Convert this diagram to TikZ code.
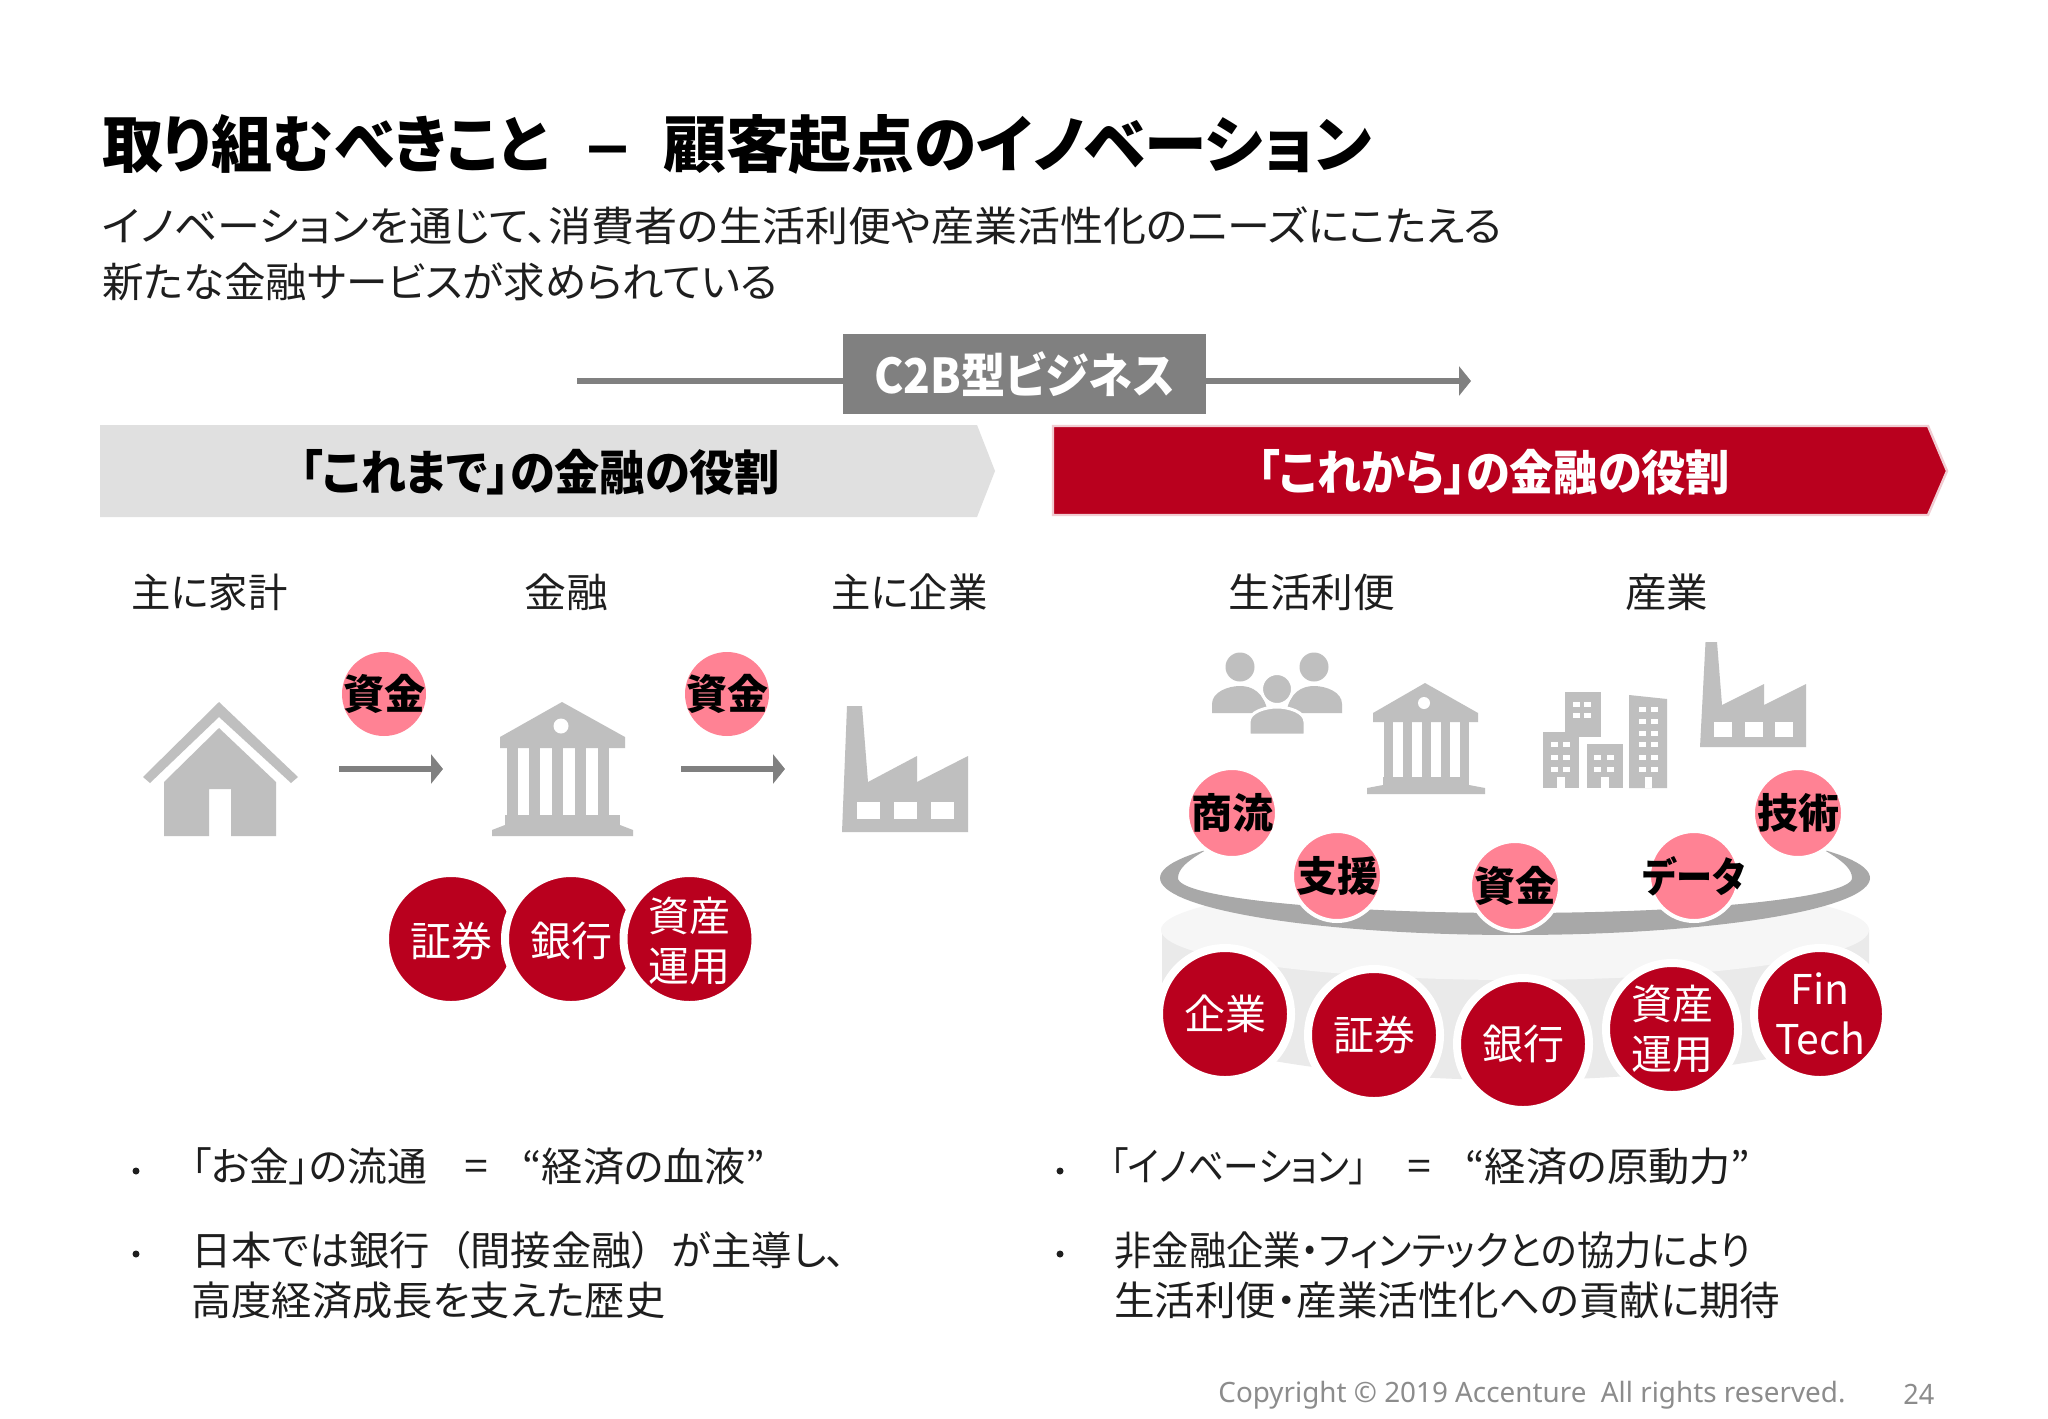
\documentclass[tikz,border=0pt]{standalone}
\usepackage{fontspec}
\usepackage{graphicx}
\setmainfont[RawFeature=+palt]{Noto Sans CJK JP}
\newfontfamily\latinf{Noto Sans}
\usetikzlibrary{arrows.meta}
\definecolor{cred}{HTML}{B9001E}
\definecolor{cpink}{HTML}{FF8294}
\definecolor{cicon}{HTML}{BFBFBF}
\definecolor{cgrey}{HTML}{808080}
\definecolor{chead}{HTML}{E0E0E0}
\definecolor{cring}{HTML}{A8A8A8}
\definecolor{cwall}{HTML}{EAEAEA}
\definecolor{cdisc}{HTML}{F6F6F6}
\definecolor{ctxt}{HTML}{1E1E1E}
\definecolor{ccopy}{HTML}{8C8C8C}
\newcommand{\fitw}[2]{\resizebox{#1}{\height}{#2}}
\tikzset{
  txt/.style={anchor=west,inner sep=0pt,text=ctxt},
  ttl/.style={txt,text=black,font=\fontsize{31}{36}\selectfont\bfseries},
  sub/.style={txt,font=\fontsize{20.5}{24}\selectfont},
  lab/.style={inner sep=0pt,text=ctxt,font=\fontsize{20}{24}\selectfont,anchor=west},
  body/.style={txt,font=\fontsize{20}{24}\selectfont},
  hd/.style={inner sep=0pt,font=\fontsize{24}{28}\selectfont\bfseries},
  pinkc/.style={circle,fill=cpink,minimum size=42pt,inner sep=0pt},
  pinkr/.style={pinkc,draw=white,line width=2pt,minimum size=45pt},
  pinkt/.style={inner sep=0pt,text=black,font=\fontsize{20.5}{24}\selectfont\bfseries},
  redc/.style={circle,fill=cred,draw=white,line width=4pt,minimum size=66pt,inner sep=0pt},
  redt/.style={inner sep=0pt,text=white,align=center,font=\fontsize{20.5}{25}\selectfont},
  flow/.style={draw=cgrey,line width=3pt,-{Triangle[length=6pt,width=14.5pt]}},
  bdot/.style={circle,fill=ctxt,minimum size=3.5pt,inner sep=0pt},
}
\begin{document}
\begin{tikzpicture}[x=0.5pt,y=-0.5pt]
\useasboundingbox (0,0) rectangle (2048,1418);
\fill[white] (0,0) rectangle (2048,1418);

% title
\node[ttl] (title) at (102,144) {\fitw{223.5pt}{取り組むべきこと}\hspace{18pt}\fitw{22.5pt}{–}\hspace{16.5pt}\fitw{354pt}{顧客起点のイノベーション}};
\node[sub] (sub1) at (102,226) {\fitw{700pt}{イノベーションを通じて、消費者の生活利便や産業活性化のニーズにこたえる}};
\node[sub] (sub2) at (102,282) {\fitw{337.5pt}{新たな金融サービスが求められている}};

% C2B bar
\coordinate (c2bl) at (577,381);
\coordinate (c2br) at (1471,381);
\node[fill=cgrey,minimum width=181.5pt,minimum height=40pt,inner sep=0pt,text=white,font=\fontsize{24}{28}\selectfont\bfseries] (c2b) at (1024.5,374) {\fitw{150pt}{C2B型ビジネス}};
\draw[draw=cgrey,line width=3pt] (c2bl) -- (c2bl-|c2b.west);
\draw[flow] (c2br-|c2b.east) -- (c2br);

% header pentagons
\fill[chead] (100,425) -- (977,425) -- (995,471) -- (977,517) -- (100,517) -- cycle;
\node[hd,text=black] (hl) at (540,472) {\fitw{240pt}{「これまで」の金融の役割}};
\fill[cred,draw=cred!20,line width=1.2pt] (1053,426) -- (1928,426) -- (1947,471) -- (1928,515) -- (1053,515) -- cycle;
\node[hd,text=white] (hr) at (1494,472) {\fitw{236pt}{「これから」の金融の役割}};

% column labels
\node[lab] (l1) at (131,592) {\fitw{78pt}{主に家計}};
\node[lab] (l2) at (524,592) {\fitw{42pt}{金融}};
\node[lab] (l3) at (831,592) {\fitw{78pt}{主に企業}};
\node[lab] (l4) at (1228,592) {\fitw{83.5pt}{生活利便}};
\node[lab] (l5) at (1625,592) {\fitw{41.5pt}{産業}};

% house
\fill[cicon] (219,702) -- (298,777) -- (291,783) -- (219,717) -- (150,783) -- (143,777) -- cycle;
\fill[cicon,even odd rule] (219,728) -- (276,782) -- (276,836) -- (231,836) -- (231,789) -- (209,789) -- (209,836) -- (164,836) -- (164,782) -- cycle;

% bank left
\fill[cicon] (562,702) -- (625,737) -- (625,748) -- (500,748) -- (500,737) -- cycle;
\fill[white] (561,726) circle[radius=7.5];
\foreach \cx in {512,534.5,557,580,603}{\fill[cicon] (\cx-5.5,748) rectangle (\cx+5.5,815);}
\fill[cicon] (505,815) rectangle (620,825);
\fill[cicon] (505,825) -- (620,825) -- (633,830) -- (633,836) -- (492,836) -- (492,830) -- cycle;

% factory left
\fill[cicon] (847,706) -- (862,706) -- (868,782) -- (917,756) -- (917,782) -- (968,756) -- (968,832) -- (842,832) -- cycle;
\foreach \wx in {857,894,931}{\fill[white] (\wx,802) rectangle (\wx+23,819);}

% left flows
\node[pinkc] (p1) at (384,694) {};
\node[pinkt] (p1t) at (p1) {資金};
\node[pinkc] (p2) at (727,694) {};
\node[pinkt] (p2t) at (p2) {資金};
\coordinate (a1s) at (339,769);
\coordinate (a1e) at (443,769);
\coordinate (a2s) at (681,769);
\coordinate (a2e) at (785,769);
\draw[flow] (a1s) -- (a1e);
\draw[flow] (a2s) -- (a2e);

% left red circles
\node[redc] (s1) at (451,939) {};
\node[redt] (s1t) at (451,941) {証券};
\node[redc] (s2) at (571,939) {};
\node[redt] (s2t) at (571,941) {銀行};
\node[redc] (s3) at (689.5,939) {};
\node[redt] (s3t) at (689.5,941) {資産\\運用};

% right icons: people
\fill[cicon] (1240,667) circle[radius=14.5];
\fill[cicon] (1314,667) circle[radius=14.5];
\fill[cicon] (1212,713) -- (1212,704) .. controls (1212,692) and (1228,686) .. (1240,686) .. controls (1252,686) and (1264,692) .. (1268,713) -- cycle;
\fill[cicon] (1342,713) -- (1342,704) .. controls (1342,692) and (1326,686) .. (1314,686) .. controls (1302,686) and (1290,692) .. (1286,713) -- cycle;
\fill[cicon,draw=white,line width=1.5pt] (1277,689) circle[radius=15.5];
\fill[cicon,draw=white,line width=1.5pt] (1249,735) -- (1249,722) .. controls (1249,712) and (1265,707) .. (1277,707) .. controls (1289,707) and (1305,712) .. (1305,722) -- (1305,735) -- cycle;

% bank right
\fill[cicon] (1425,683) -- (1478,713) -- (1478,722) -- (1373,722) -- (1373,713) -- cycle;
\fill[white] (1424,703) circle[radius=6];
\foreach \cx in {1388,1407,1426,1445,1464}{\fill[cicon] (\cx-4.5,722) rectangle (\cx+4.5,777);}
\fill[cicon] (1383,777) rectangle (1469,785);
\fill[cicon] (1383,785) -- (1469,785) -- (1485,788) -- (1485,794) -- (1367,794) -- (1367,788) -- cycle;

% buildings
\fill[cicon] (1565,692) rectangle (1601,737);
\foreach \wx in {1573,1584}\foreach \wy in {702,713}{\fill[white] (\wx,\wy) rectangle (\wx+7,\wy+5);}
\fill[cicon] (1543,732) rectangle (1579,788);
\foreach \wx in {1551,1563}\foreach \wy in {742,755,767}{\fill[white] (\wx,\wy) rectangle (\wx+7,\wy+5);}
\fill[white] (1557,777) rectangle (1565,788);
\fill[cicon] (1587,744) rectangle (1623,788);
\foreach \wx in {1594,1607}\foreach \wy in {755,767}{\fill[white] (\wx,\wy) rectangle (\wx+7,\wy+5);}
\fill[white] (1601,777) rectangle (1609,788);
\fill[cicon] (1629,695) -- (1667,699) -- (1667,788) -- (1629,788) -- cycle;
\foreach \wx in {1639,1651}\foreach \wy in {707,719,731,742,755,767}{\fill[white] (\wx,\wy) rectangle (\wx+7,\wy+5);}
\fill[white] (1645,777) rectangle (1652,788);

% factory right
\fill[cicon] (1705.5,642) -- (1717,642) -- (1722,705) -- (1764,684) -- (1764,705) -- (1806,684) -- (1806,747) -- (1700,747) -- cycle;
\foreach \wx in {1714,1745,1775}{\fill[white] (\wx,722) rectangle (\wx+18,737);}

% platform: wall, disc, white interior, ring
\fill[cwall] (1162,930) -- (1162,1030) .. controls (1230,1062) and (1380,1080) .. (1515,1080) .. controls (1650,1080) and (1800,1062) .. (1869,1030) -- (1869,930) -- cycle;
\fill[cdisc] (1515,930) ellipse[x radius=354,y radius=50];
\fill[white] (1178,800) rectangle (1852,878);
\fill[white] (1515,878) ellipse[x radius=337,y radius=35];
\fill[cring] plot[domain=209.5:-29.5,samples=90,variable=\t] ({1515+355*cos(\t)},{878+57*sin(\t)})
  .. controls (1845,862) and (1852,870) .. (1852,878)
  -- plot[domain=0:180,samples=90,variable=\t] ({1515+337*cos(\t)},{878+35*sin(\t)})
  .. controls (1178,870) and (1185,862) .. (1206,850) -- cycle;

% right pink circles
\node[pinkr] (q1) at (1232,813) {};
\node[pinkt] (q1t) at (q1) {商流};
\node[pinkr] (q2) at (1337,876) {};
\node[pinkt] (q2t) at (q2) {支援};
\node[pinkr] (q3) at (1515,886) {};
\node[pinkt] (q3t) at (q3) {資金};
\node[pinkr] (q4) at (1694,876) {};
\node[pinkt] (q4t) at (q4) {\fitw{51pt}{データ}};
\node[pinkr] (q5) at (1798,813) {};
\node[pinkt] (q5t) at (q5) {技術};

% right red circles
\node[redc] (r1) at (1225,1014) {};
\node[redt] (r1t) at (r1) {企業};
\node[redc] (r2) at (1374,1035) {};
\node[redt] (r2t) at (r2) {証券};
\node[redc] (r3) at (1523,1044) {};
\node[redt] (r3t) at (r3) {銀行};
\node[redc] (r4) at (1672,1029) {};
\node[redt] (r4t) at (r4) {資産\\運用};
\node[redc] (r5) at (1820,1014) {};
\node[redt] (r5t) at (r5) {Fin\\Tech};

% bullets
\node[bdot] (b1) at (136,1171) {};
\node[body] (t1) at (191,1166) {\fitw{118pt}{「お金」の流通}\hspace{17.5pt}\fitw{14pt}{＝}\hspace{16pt}\fitw{121.5pt}{“経済の血液”}};
\node[bdot] (b2) at (136,1254) {};
\node[body] (t2) at (191,1250) {\fitw{327.5pt}{日本では銀行\hspace{.5em}（間接金融）\hspace{.5em}が主導し、}};
\node[body] (t3) at (191,1300) {\fitw{237pt}{高度経済成長を支えた歴史}};
\node[bdot] (b3) at (1060,1171) {};
\node[body] (t4) at (1110,1166) {\fitw{128.5pt}{「イノベーション」}\hspace{19pt}\fitw{14pt}{＝}\hspace{16pt}\fitw{142.5pt}{“経済の原動力”}};
\node[bdot] (b4) at (1060,1254) {};
\node[body] (t5) at (1114,1250) {\fitw{318pt}{非金融企業・フィンテックとの協力により}};
\node[body] (t6) at (1114,1300) {\fitw{333pt}{生活利便・産業活性化への貢献に期待}};

% footer
\node[txt,text=ccopy,font=\latinf\fontsize{14}{16}\selectfont] (copy) at (1218,1395) {\fitw{313.5pt}{Copyright © 2019 Accenture\ \ All rights reserved.}};
\node[txt,text=ccopy,font=\latinf\fontsize{14}{16}\selectfont] (pg) at (1903,1394) {\fitw{15.5pt}{24}};
\end{tikzpicture}
\end{document}
